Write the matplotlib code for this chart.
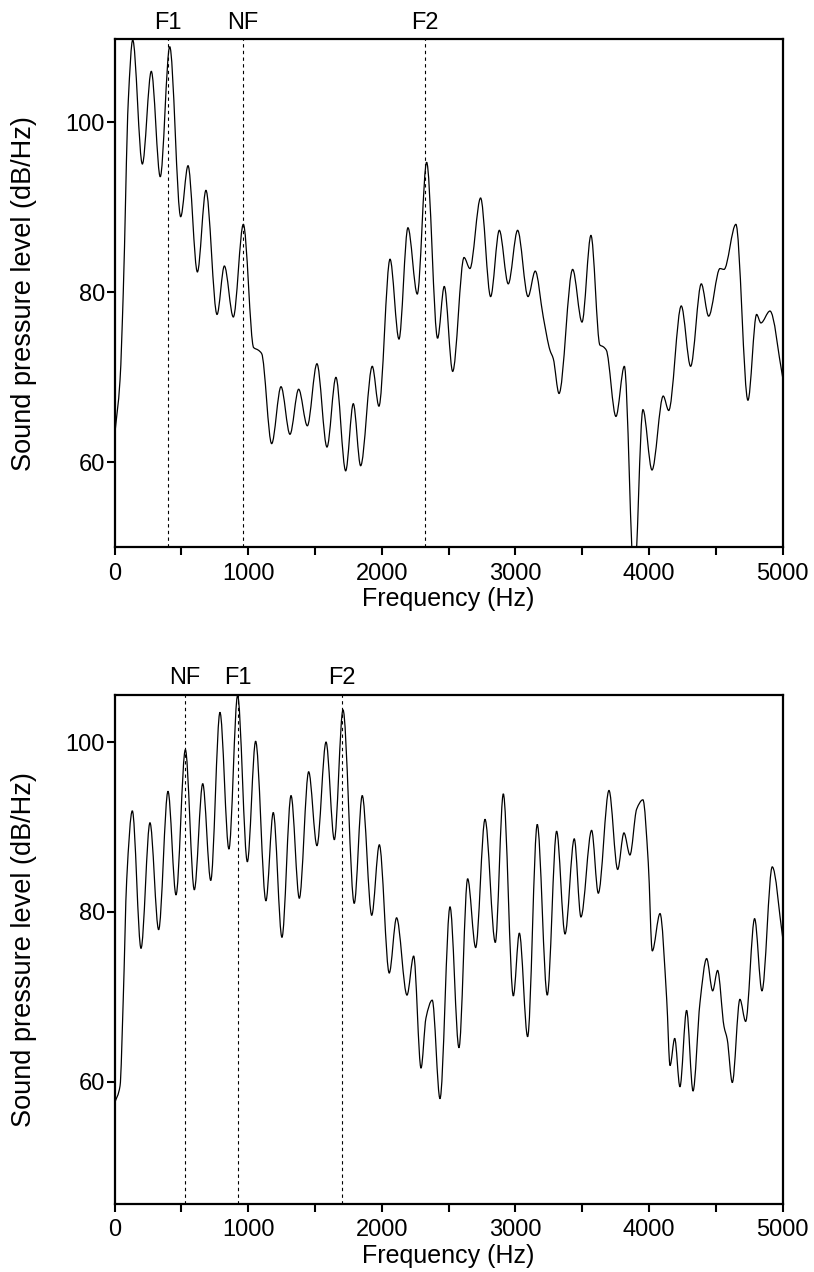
import numpy as np
import matplotlib
matplotlib.use('Agg')
import matplotlib.pyplot as plt
from matplotlib.path import Path
from matplotlib.patches import PathPatch
from matplotlib.ticker import MultipleLocator

plt.rcParams['font.family'] = ['Liberation Sans', 'DejaVu Sans']
plt.rcParams['font.size'] = 17

# spectrum 1: peaks / troughs / shoulders (Hz, dB/Hz)
freq1 = [0, 40, 64, 102, 135, 207, 274, 341, 412, 494, 549, 619, 683, 766,
         821, 888, 963, 1040, 1075, 1100, 1175, 1245, 1312, 1377, 1442, 1514,
         1589, 1656, 1729, 1786, 1841, 1928, 1978, 2061, 2128, 2195, 2265,
         2335, 2417, 2467, 2530, 2615, 2659, 2739, 2814, 2879, 2946, 3016,
         3094, 3148, 3208, 3258, 3283, 3326, 3428, 3498, 3565, 3632, 3657,
         3680, 3752, 3815, 3889, 3954, 4022, 4106, 4147, 4241, 4311, 4391,
         4446, 4531, 4561, 4650, 4740, 4805, 4837, 4905, 5000]
spl1 = [63.2, 69.7, 79.9, 102.6, 109.7, 95.1, 106.0, 93.6, 108.9, 88.9, 94.9,
        82.4, 92.0, 77.4, 83.1, 77.1, 88.0, 73.5, 73.2, 72.8, 62.2, 68.9, 63.3,
        68.6, 64.3, 71.6, 61.8, 70.0, 59.0, 66.9, 59.6, 71.3, 66.6, 83.9, 74.5,
        87.6, 79.8, 95.3, 74.6, 80.7, 70.7, 84.1, 82.8, 91.1, 79.5, 87.3, 81.0,
        87.3, 79.5, 82.5, 77.1, 73.2, 72.2, 68.1, 82.7, 76.5, 86.7, 73.8, 73.6,
        73.2, 65.4, 71.3, 46.0, 66.2, 59.1, 67.8, 66.1, 78.4, 71.3, 81.0, 77.2,
        82.8, 82.7, 88.0, 67.3, 77.4, 76.4, 77.8, 70.0]
marks1 = ['F1', 'NF', 'F2']
marks1_hz = [397, 958, 2325]

# spectrum 2
freq2 = [0, 40, 64, 90, 132, 197, 264, 329, 399, 459, 529, 596, 659, 719, 788,
         855, 920, 993, 1055, 1132, 1187, 1252, 1320, 1382, 1452, 1514, 1582,
         1644, 1709, 1793, 1853, 1924, 1981, 2055, 2110, 2188, 2238, 2293,
         2330, 2377, 2435, 2510, 2577, 2642, 2702, 2772, 2849, 2909, 2984,
         3029, 3091, 3163, 3238, 3308, 3371, 3440, 3490, 3570, 3620, 3700,
         3765, 3812, 3857, 3907, 3954, 3994, 4024, 4082, 4132, 4157, 4192,
         4231, 4281, 4329, 4381, 4431, 4476, 4513, 4561, 4585, 4623, 4680,
         4723, 4790, 4845, 4922, 5000]
spl2 = [57.5, 59.5, 69.7, 83.8, 91.9, 75.7, 90.5, 77.9, 94.2, 82.0, 99.1, 82.6,
        95.1, 83.7, 103.5, 87.4, 105.5, 85.9, 100.1, 81.3, 91.7, 77.0, 93.7,
        81.6, 96.5, 87.8, 100.0, 88.5, 103.8, 81.0, 93.7, 79.6, 87.9, 72.8,
        79.3, 70.2, 74.8, 61.6, 67.5, 69.6, 58.0, 80.6, 64.0, 83.9, 75.8, 90.9,
        76.4, 93.9, 70.1, 77.5, 65.3, 90.3, 70.2, 89.5, 77.4, 88.6, 79.4, 89.6,
        82.2, 94.3, 85.0, 89.3, 86.7, 92.1, 93.2, 85.8, 75.4, 79.8, 69.7, 61.9,
        65.1, 59.4, 68.4, 58.9, 69.3, 74.5, 70.7, 73.1, 66.5, 65.0, 59.9, 69.7,
        67.1, 79.2, 70.7, 85.3, 77.0]
marks2 = ['NF', 'F1', 'F2']
marks2_hz = [526, 920, 1701]


def smooth_line(ax, x, y, **kw):
    # monotone cubic bezier through the read points (flat at peaks/troughs)
    x = np.asarray(x, float)
    y = np.asarray(y, float)
    h = np.diff(x)
    d = np.diff(y) / h
    m = np.zeros_like(x)
    m[0], m[-1] = d[0], d[-1]
    for i in range(1, len(x) - 1):
        if d[i - 1] * d[i] > 0:
            w1 = 2 * h[i] + h[i - 1]
            w2 = h[i] + 2 * h[i - 1]
            m[i] = (w1 + w2) / (w1 / d[i - 1] + w2 / d[i])
    verts = [(x[0], y[0])]
    codes = [Path.MOVETO]
    for i in range(len(x) - 1):
        verts += [(x[i] + h[i] / 3, y[i] + m[i] * h[i] / 3),
                  (x[i + 1] - h[i] / 3, y[i + 1] - m[i + 1] * h[i] / 3),
                  (x[i + 1], y[i + 1])]
        codes += [Path.CURVE4] * 3
    ax.add_patch(PathPatch(Path(verts, codes), fill=False, **kw))


def panel(ax, freq, spl, marks, marks_hz, ylim):
    smooth_line(ax, freq, spl, ec='black', lw=0.9)
    for name, f in zip(marks, marks_hz):
        ax.axvline(f, color='black', lw=0.8, ls=(0, (3, 3)))
        ax.text(f, 1.02, name, transform=ax.get_xaxis_transform(),
                ha='center', va='baseline')
    ax.set_xlim(0, 5000)
    ax.set_ylim(*ylim)
    ax.xaxis.set_major_locator(MultipleLocator(1000))
    ax.xaxis.set_minor_locator(MultipleLocator(500))
    ax.set_yticks([60, 80, 100])
    ax.tick_params(which='both', direction='out', length=6, width=1.5,
                   top=False, right=False)
    ax.tick_params(axis='y', pad=1)
    ax.tick_params(axis='x', pad=5)
    for s in ax.spines.values():
        s.set_linewidth(1.6)
    ax.set_xlabel('Frequency (Hz)', fontsize=18, labelpad=2)
    ax.set_ylabel('Sound pressure level (dB/Hz)', fontsize=19.5)
    ax.yaxis.set_label_coords(-0.117, 0.5)


fig = plt.figure(figsize=(8.14, 12.72), dpi=100)
ax1 = fig.add_axes([0.1409, 0.5697, 0.8206, 0.3996])
ax2 = fig.add_axes([0.1409, 0.0535, 0.8206, 0.4005])

panel(ax1, freq1, spl1, marks1, marks1_hz, (50, 109.8))
panel(ax2, freq2, spl2, marks2, marks2_hz, (45.6, 105.6))

fig.savefig('out.png', dpi=100)
